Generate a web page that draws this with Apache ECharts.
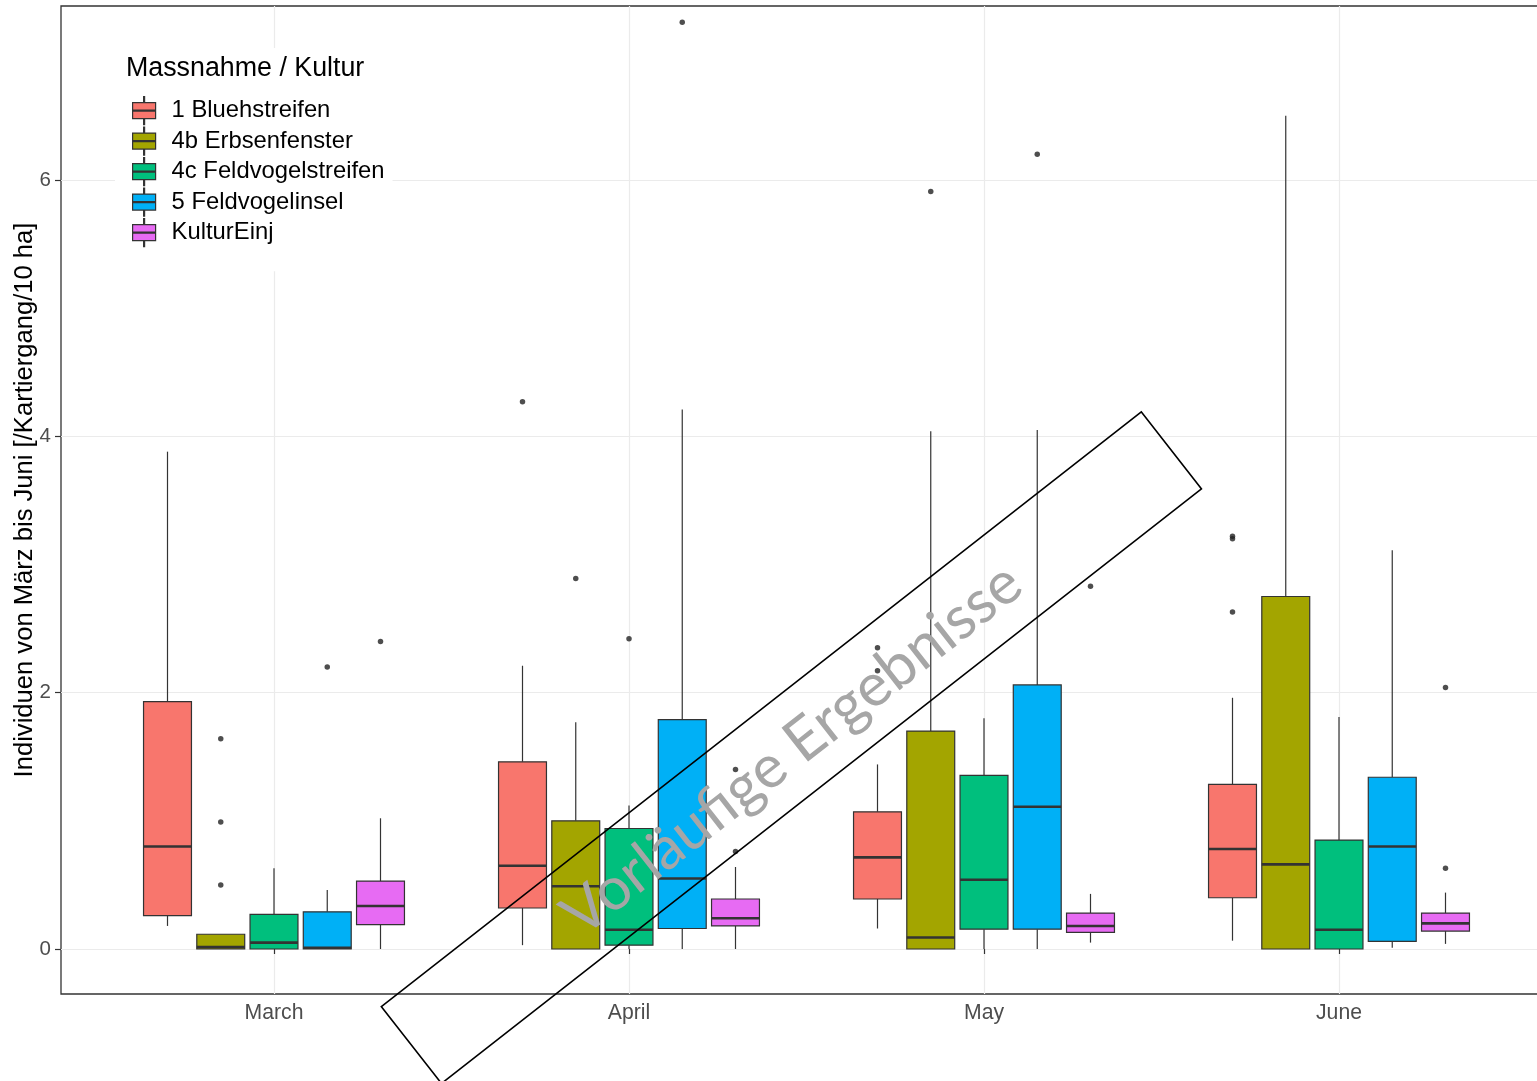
<!DOCTYPE html>
<html>
<head>
<meta charset="utf-8">
<script src="https://cdn.jsdelivr.net/npm/echarts@6/dist/echarts.min.js"></script>
<style>
  html, body { margin: 0; padding: 0; background: #fff; }
  #chart { width: 1537px; height: 1081px; }
</style>
</head>
<body>
<div id="chart"></div>
<script>
const months = ['March', 'April', 'May', 'June']
const monthPos = [1, 2, 3, 4]
const groups = ['1 Bluehstreifen', '4b Erbsenfenster', '4c Feldvogelstreifen', '5 Feldvogelinsel', 'KulturEinj']
const yTicks = [0, 2, 4, 6]

// [lower whisker, Q1, median, Q3, upper whisker] per month
const bluehStats = [
  [0.18, 0.26, 0.80, 1.93, 3.88],
  [0.03, 0.32, 0.65, 1.46, 2.21],
  [0.16, 0.39, 0.715, 1.07, 1.44],
  [0.065, 0.40, 0.78, 1.285, 1.96]
]
const erbsStats = [
  [0, 0, 0.015, 0.115, 0.115],
  [0, 0, 0.49, 1.00, 1.77],
  [0, 0, 0.09, 1.70, 4.04],
  [0, 0, 0.66, 2.75, 6.50]
]
const feldStrStats = [
  [0, 0, 0.05, 0.27, 0.63],
  [0, 0.03, 0.15, 0.94, 1.12],
  [0, 0.155, 0.54, 1.355, 1.80],
  [0, 0, 0.15, 0.85, 1.81]
]
const feldInsStats = [
  [0, 0, 0.01, 0.29, 0.46],
  [0, 0.16, 0.55, 1.79, 4.21],
  [0, 0.155, 1.11, 2.06, 4.05],
  [0.01, 0.06, 0.80, 1.34, 3.11]
]
const kulturStats = [
  [0, 0.19, 0.335, 0.53, 1.02],
  [0, 0.18, 0.24, 0.39, 0.64],
  [0.05, 0.13, 0.18, 0.28, 0.43],
  [0.04, 0.14, 0.20, 0.28, 0.44]
]

// outliers per month
const bluehOut = [[], [4.27], [2.35, 2.17], [3.22, 3.20, 2.63]]
const erbsOut = [[1.64, 0.99, 0.50], [2.89], [5.91], []]
const feldStrOut = [[], [2.42], [], []]
const feldInsOut = [[2.20], [7.23], [6.20], []]
const kulturOut = [[2.40], [1.40, 0.76], [2.83], [2.04, 0.63]]

const allStats = [bluehStats, erbsStats, feldStrStats, feldInsStats, kulturStats]
const allOut = [bluehOut, erbsOut, feldStrOut, feldInsOut, kulturOut]
const colors = ['#F8766D', '#A3A500', '#00BF7D', '#00B0F6', '#E76BF3']

const DODGE = 0.15
const BOX_W = 0.135
const LINE = '#333333'
const FONT = 'Liberation Sans, Arial, sans-serif'

const legendIcon = 'path://M11,0 L12,0 L12,6 L11,6 Z M0,6 L23,6 L23,22 L0,22 Z M0,13.4 L23,13.4 L23,14.6 L0,14.6 Z M11,22 L12,22 L12,28 L11,28 Z'

const boxRenderer = function (offset) {
  return function (params, api) {
    const x = api.value(0) + offset
    const lo = api.coord([x, api.value(1)])
    const q1 = api.coord([x, api.value(2)])
    const med = api.coord([x, api.value(3)])
    const q3 = api.coord([x, api.value(4)])
    const hi = api.coord([x, api.value(5)])
    const half = api.size([BOX_W, 0])[0] / 2
    const fill = api.visual('color')
    return {
      type: 'group',
      children: [
        { type: 'line', shape: { x1: lo[0], y1: lo[1], x2: q1[0], y2: q1[1] }, style: { stroke: LINE, lineWidth: 1.2 } },
        { type: 'line', shape: { x1: q3[0], y1: q3[1], x2: hi[0], y2: hi[1] }, style: { stroke: LINE, lineWidth: 1.2 } },
        { type: 'rect', shape: { x: q3[0] - half, y: q3[1], width: half * 2, height: q1[1] - q3[1] }, style: { fill: fill, stroke: LINE, lineWidth: 1.2 } },
        { type: 'line', shape: { x1: med[0] - half, y1: med[1], x2: med[0] + half, y2: med[1] }, style: { stroke: LINE, lineWidth: 2.6 } }
      ]
    }
  }
}

const series = []
groups.forEach(function (name, g) {
  const offset = (g - 2) * DODGE
  series.push({
    name: name,
    type: 'custom',
    itemStyle: { color: colors[g] },
    encode: { x: 0, y: [1, 2, 3, 4, 5] },
    renderItem: boxRenderer(offset),
    data: allStats[g].map(function (s, m) { return [monthPos[m]].concat(s) }),
    z: 2
  })
  const pts = []
  allOut[g].forEach(function (vals, m) {
    vals.forEach(function (v) { pts.push([monthPos[m] + offset, v]) })
  })
  series.push({
    name: name + ' outliers',
    type: 'scatter',
    symbol: 'circle',
    symbolSize: 5.5,
    itemStyle: { color: '#222' },
    data: pts,
    z: 3
  })
})

const chart = echarts.init(document.getElementById('chart'))
chart.setOption({
  animation: false,
  backgroundColor: '#fff',
  textStyle: { fontFamily: FONT },
  grid: {
    left: 61, right: -15, top: 6, bottom: 87,
    outerBoundsMode: 'none',
    containLabel: false,
    show: true, borderColor: LINE, borderWidth: 1.3, backgroundColor: 'transparent'
  },
  title: {
    text: 'Massnahme / Kultur',
    left: 126, top: 55, padding: 0,
    textStyle: { fontSize: 26.8, fontWeight: 'normal', color: '#000', fontFamily: FONT }
  },
  legend: {
    data: groups.map(function (n) { return { name: n, icon: legendIcon } }),
    orient: 'vertical',
    left: 115, top: 48,
    padding: [48, 8, 24, 17],
    backgroundColor: '#fff',
    itemWidth: 23, itemHeight: 28, itemGap: 1.3,
    itemStyle: { borderColor: LINE, borderWidth: 1.2 },
    textStyle: { fontSize: 23.8, color: '#000', padding: [0, 0, 0, 11], fontFamily: FONT },
    selectedMode: false
  },
  xAxis: {
    type: 'value',
    min: 0.4, max: 4.6,
    minInterval: 1, maxInterval: 1,
    axisLine: { show: false },
    axisTick: { show: true, customValues: monthPos, length: 5, lineStyle: { color: LINE, width: 1.2 } },
    axisLabel: {
      customValues: monthPos, margin: 9, fontSize: 21.2, color: '#4d4d4d',
      formatter: function (v) { return months[Math.round(v) - 1] }
    },
    splitLine: { show: true, lineStyle: { color: '#ebebeb', width: 1.2 } }
  },
  yAxis: {
    type: 'value',
    min: -0.351, max: 7.357,
    minInterval: 1, maxInterval: 1,
    name: 'Individuen von März bis Juni [/Kartiergang/10 ha]',
    nameLocation: 'middle', nameGap: 23,
    nameMoveOverlap: false,
    nameTextStyle: { fontSize: 25.6, color: '#000', fontFamily: FONT },
    axisLine: { show: false },
    axisTick: { show: true, customValues: yTicks, length: 6, lineStyle: { color: LINE, width: 1.2 } },
    axisLabel: { customValues: yTicks, margin: 10, fontSize: 20.5, color: '#4d4d4d' },
    splitLine: { show: true, lineStyle: { color: '#ebebeb', width: 1.2 } }
  },
  graphic: [{
    type: 'group',
    x: 791, y: 748,
    rotation: 0.664,
    z: 100,
    children: [
      { type: 'rect', z: 100, shape: { x: -482, y: -48.8, width: 965, height: 97.6 }, style: { fill: 'none', stroke: '#000', lineWidth: 1.6 } },
      { type: 'text', z: 101, x: 0, y: 2, style: { text: 'Vorläufige Ergebnisse', font: '60px Lato, "Open Sans", sans-serif', fill: '#a6a6a6', align: 'center', verticalAlign: 'middle' } }
    ]
  }],
  series: series
})
</script>
</body>
</html>
